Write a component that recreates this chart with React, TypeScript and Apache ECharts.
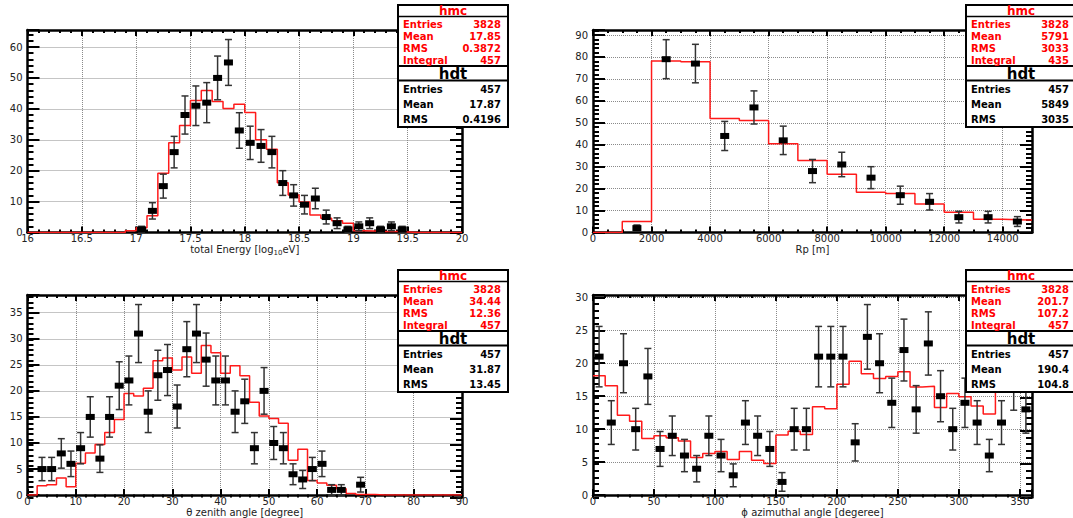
import React, { useEffect, useRef } from "react";
import * as echarts from "echarts";

// ---------------- data ----------------
// Panel 1: total energy, bins of 0.1 from 16 to 20
const energyBinStart = 16;
const energyBinWidth = 0.1;
const energyMc = [
  0, 0, 0, 0, 0, 0, 0, 0, 0, 0.6,
  1.5, 5.4, 19.2, 29, 34.6, 42.7, 45.9, 42.4, 40.1, 41.5,
  38.8, 30, 26.9, 16.1, 12.1, 9.9, 5.7, 4.6, 3.8, 3.0,
  0.6, 0.5, 0.3, 0.3, 0.2, 0, 0, 0, 0, 0,
];
const energyData = [
  0, 0, 0, 0, 0, 0, 0, 0, 0, 0,
  1, 7, 15, 26, 38, 41, 42, 50, 55, 33,
  29, 28, 26, 16, 12, 9, 11, 5, 3, 1,
  2, 3, 1, 2, 1, 0, 0, 0, 0, 0,
];
const energyStatsMc = ["3828", "17.85", "0.3872", "457"];
const energyStatsDt = ["457", "17.87", "0.4196"];

// Panel 2: Rp, bins of 1000 m from 0 to 15000
const rpBinStart = 0;
const rpBinWidth = 1000;
const rpMc = [0, 5, 78.2, 77.8, 52, 51, 40.5, 32.8, 26.5, 18.3, 17.8, 13, 9.2, 6, 5.7];
const rpData = [0, 2, 79, 77, 44, 57, 42, 28, 31, 25, 17, 14, 7, 7, 5];
const rpStatsMc = ["3828", "5791", "3033", "435"];
const rpStatsDt = ["457", "5849", "3035"];

// Panel 3: zenith angle, bins of 2 deg from 0 to 90
const thetaBinStart = 0;
const thetaBinWidth = 2;
const thetaMc = [
  0, 1.8, 2.0, 3.3, 1.6, 6.1, 8.1, 9.7, 12.0, 14.5,
  19.5, 19.0, 20.5, 25.8, 26.3, 24.0, 26.5, 23.4, 28.7, 27.3,
  23.4, 24.8, 22.9, 17.8, 15.2, 14.7, 13.8, 6.7, 8.8, 2.8,
  2.3, 1.9, 1.2, 0.3, 0.1, 0.1, 0, 0, 0, 0,
  0, 0, 0, 0, 0,
];
const thetaData = [
  0, 5, 5, 8, 6, 9, 15, 7, 15, 21,
  22, 31, 16, 23, 24, 17, 28, 31, 26, 22,
  22, 16, 18, 9, 20, 10, 9, 4, 3, 5,
  6, 1, 1, 0, 2, 0, 0, 0, 0, 0,
  0, 0, 0, 0, 0,
];
const thetaStatsMc = ["3828", "34.44", "12.36", "457"];
const thetaStatsDt = ["457", "31.87", "13.45"];

// Panel 4: azimuthal angle, bins of 10 deg from 0 to 360
const phiBinStart = 0;
const phiBinWidth = 10;
const phiMc = [
  18.1, 16.6, 12.1, 11.2, 8.6, 9.0, 8.7, 8.2, 5.7, 6.3,
  6.6, 5.4, 6.6, 5.3, 4.8, 9.1, 9.7, 9.2, 13.4, 13.1,
  16.8, 20.3, 18.4, 17.7, 18.0, 18.7, 16.4, 16.5, 13.3, 15.4,
  14.9, 13.5, 12.3, 19, 19, 19,
];
const phiData = [
  21, 11, 20, 10, 18, 7, 9, 6, 4, 9,
  6, 3, 11, 9, 7, 2, 10, 10, 21, 21,
  21, 8, 24, 20, 14, 22, 13, 23, 15, 10,
  14, 11, 6, 11, 17, 13,
];
const phiStatsMc = ["3828", "201.7", "107.2", "457"];
const phiStatsDt = ["457", "190.4", "104.8"];

const statLabelsMc = ["Entries", "Mean", "RMS", "Integral"];
const statLabelsDt = ["Entries", "Mean", "RMS"];

// axis ranges / tick steps
const energyAxis = { xMin: 16, xMax: 20, xMajor: 0.5, xMinor: 0.1, yMax: 65.5, yMajor: 10, yMinor: 2 };
const rpAxis = { xMin: 0, xMax: 15000, xMajor: 2000, xMinor: 500, yMax: 92.3, yMajor: 10, yMinor: 2 };
const thetaAxis = { xMin: 0, xMax: 90, xMajor: 10, xMinor: 2, yMax: 38.4, yMajor: 5, yMinor: 1 };
const phiAxis = { xMin: 0, xMax: 360, xMajor: 50, xMinor: 10, yMax: 30.35, yMajor: 5, yMinor: 1 };

// ---------------- layout ----------------
const FONT = '"DejaVu Sans", sans-serif';
const W = 1073;
const H = 518;

const panels = [
  {
    frame: { left: 27.5, top: 30, width: 434.5, height: 202.5 },
    axis: energyAxis, binStart: energyBinStart, binWidth: energyBinWidth,
    mc: energyMc, data: energyData,
    name: "{a|total Energy [log}{s|10}{a|eV]}",
    statsMc: energyStatsMc, statsDt: energyStatsDt, dx: 0, dy: 0,
  },
  {
    frame: { left: 593, top: 30, width: 439, height: 202.5 },
    axis: rpAxis, binStart: rpBinStart, binWidth: rpBinWidth,
    mc: rpMc, data: rpData,
    name: "{a|Rp [m]}",
    statsMc: rpStatsMc, statsDt: rpStatsDt, dx: 568, dy: 0,
  },
  {
    frame: { left: 27.5, top: 295, width: 434.5, height: 202.5 },
    axis: thetaAxis, binStart: thetaBinStart, binWidth: thetaBinWidth,
    mc: thetaMc, data: thetaData,
    name: "{a|θ zenith angle [degree]}",
    statsMc: thetaStatsMc, statsDt: thetaStatsDt, dx: 0, dy: 265,
  },
  {
    frame: { left: 593, top: 295, width: 439, height: 202.5 },
    axis: phiAxis, binStart: phiBinStart, binWidth: phiBinWidth,
    mc: phiMc, data: phiData,
    name: "{a|ϕ azimuthal angle [degeree]}",
    statsMc: phiStatsMc, statsDt: phiStatsDt, dx: 568, dy: 265,
  },
];

function isMultiple(v: number, step: number) {
  const r = v / step;
  return Math.abs(r - Math.round(r)) < 1e-6;
}
function fmt(step: number) {
  return (v: number) => (isMultiple(v, step) ? String(parseFloat(v.toFixed(6))) : "");
}

function buildOption() {
  const grids: any[] = [];
  const xAxes: any[] = [];
  const yAxes: any[] = [];
  const series: any[] = [];
  const graphics: any[] = [];

  const frameLine = { show: true, onZero: false, lineStyle: { color: "#000", width: 2.5 } };
  const noLine = { show: false, onZero: false };
  const tick = (len: number) => ({ show: true, inside: true, length: len, lineStyle: { color: "#000", width: 2 } });
  const labelStyle = { color: "#222", fontFamily: FONT, fontSize: 10 };
  const split = { show: true, lineStyle: { color: "#8a8a8a", type: "dotted", width: 1 } };

  panels.forEach((p) => {
    const g0 = grids.length;
    for (let k = 0; k < 4; k++) {
      grids.push({ ...p.frame, containLabel: false });
    }
    const a = p.axis;
    const xBase = { type: "value", min: a.xMin, max: a.xMax };
    const yBase = { type: "value", min: 0, max: a.yMax };
    const xMainIndex = xAxes.length;
    // main x (bottom)
    xAxes.push({
      ...xBase, gridIndex: g0, position: "bottom", interval: a.xMajor,
      axisLine: frameLine, axisTick: tick(6),
      axisLabel: { show: true, margin: 1, ...labelStyle, formatter: fmt(a.xMajor) },
      splitLine: split,
      name: p.name, nameLocation: "middle", nameGap: 5,
      nameTextStyle: {
        ...labelStyle,
        rich: {
          a: { ...labelStyle },
          s: { ...labelStyle, fontSize: 7, padding: [7, 0, 0, 0] },
        },
      },
    });
    xAxes.push({
      ...xBase, gridIndex: g0 + 1, position: "top", interval: a.xMajor,
      axisLine: frameLine, axisTick: tick(6), axisLabel: { show: false }, splitLine: { show: false },
    });
    xAxes.push({
      ...xBase, gridIndex: g0 + 2, position: "bottom", interval: a.xMinor,
      axisLine: noLine, axisTick: tick(3), axisLabel: { show: false }, splitLine: { show: false },
    });
    xAxes.push({
      ...xBase, gridIndex: g0 + 3, position: "top", interval: a.xMinor,
      axisLine: noLine, axisTick: tick(3), axisLabel: { show: false }, splitLine: { show: false },
    });

    const yMainIndex = yAxes.length;
    yAxes.push({
      ...yBase, gridIndex: g0, position: "left", interval: a.yMajor,
      axisLine: frameLine, axisTick: tick(12),
      axisLabel: { show: true, margin: 5, ...labelStyle, formatter: fmt(a.yMajor) },
      splitLine: split,
    });
    yAxes.push({
      ...yBase, gridIndex: g0 + 1, position: "right", interval: a.yMajor,
      axisLine: frameLine, axisTick: tick(12), axisLabel: { show: false }, splitLine: { show: false },
    });
    yAxes.push({
      ...yBase, gridIndex: g0 + 2, position: "left", interval: a.yMinor,
      axisLine: noLine, axisTick: tick(6), axisLabel: { show: false }, splitLine: { show: false },
    });
    yAxes.push({
      ...yBase, gridIndex: g0 + 3, position: "right", interval: a.yMinor,
      axisLine: noLine, axisTick: tick(6), axisLabel: { show: false }, splitLine: { show: false },
    });

    // red MC step histogram
    const stepData: number[][] = p.mc.map((v, k) => [p.binStart + k * p.binWidth, v]);
    stepData.push([p.binStart + p.mc.length * p.binWidth, p.mc[p.mc.length - 1]]);
    series.push({
      type: "line", step: "end", xAxisIndex: xMainIndex, yAxisIndex: yMainIndex,
      data: stepData, showSymbol: false, symbol: "none",
      lineStyle: { color: "#ff1a1a", width: 1.5 }, z: 2, silent: true,
    });

    // data points with Poisson errors
    const pts = p.data
      .map((n, k) => [p.binStart + (k + 0.5) * p.binWidth, n, Math.sqrt(n)])
      .filter((d) => d[1] > 0);
    series.push({
      type: "custom", xAxisIndex: xMainIndex, yAxisIndex: yMainIndex,
      dimensions: ["x", "y", "e"], encode: { x: 0, y: 1 },
      data: pts, z: 3, silent: true,
      renderItem: (_params: any, api: any) => {
        const x = api.value(0);
        const y = api.value(1);
        const e = api.value(2);
        const lo = api.coord([x, y - e]);
        const hi = api.coord([x, y + e]);
        const cap = 3.5;
        const st = { stroke: "#333", lineWidth: 1.5 };
        return {
          type: "group",
          children: [
            { type: "line", shape: { x1: lo[0], y1: lo[1], x2: hi[0], y2: hi[1] }, style: st },
            { type: "line", shape: { x1: lo[0] - cap, y1: lo[1], x2: lo[0] + cap, y2: lo[1] }, style: st },
            { type: "line", shape: { x1: hi[0] - cap, y1: hi[1], x2: hi[0] + cap, y2: hi[1] }, style: st },
          ],
        };
      },
    });
    series.push({
      type: "scatter", xAxisIndex: xMainIndex, yAxisIndex: yMainIndex,
      data: pts.map((d) => [d[0], d[1]]), symbol: "rect", symbolSize: [9, 6],
      itemStyle: { color: "#000", opacity: 1 }, z: 4, silent: true,
    });

    // stat boxes
    const bx = 398 + p.dx;
    const bw = 110;
    const dy = p.dy;
    graphics.push(
      { type: "rect", z: 100, shape: { x: bx, y: 5 + dy, width: bw, height: 61 }, style: { fill: "#fff", stroke: "#000", lineWidth: 2 } },
      { type: "line", z: 101, shape: { x1: bx, y1: 16.5 + dy, x2: bx + bw, y2: 16.5 + dy }, style: { stroke: "#000", lineWidth: 1.5 } },
      { type: "text", z: 101, x: bx + bw / 2, y: 11 + dy, style: { text: "hmc", fill: "#ff0000", font: `bold 12px ${FONT}`, align: "center", verticalAlign: "middle" } },
      { type: "rect", z: 100, shape: { x: bx, y: 66 + dy, width: bw, height: 61 }, style: { fill: "#fff", stroke: "#000", lineWidth: 2 } },
      { type: "line", z: 101, shape: { x1: bx, y1: 80.5 + dy, x2: bx + bw, y2: 80.5 + dy }, style: { stroke: "#000", lineWidth: 2 } },
      { type: "text", z: 101, x: bx + bw / 2, y: 73.5 + dy, style: { text: "hdt", fill: "#000", font: `bold 15px ${FONT}`, align: "center", verticalAlign: "middle" } },
    );
    const mcRows = [24, 36, 48, 60];
    statLabelsMc.forEach((lab, k) => {
      graphics.push(
        { type: "text", z: 101, x: bx + 5, y: mcRows[k] + dy, style: { text: lab, fill: "#ff0000", font: `bold 10px ${FONT}`, align: "left", verticalAlign: "middle" } },
        { type: "text", z: 101, x: bx + 103, y: mcRows[k] + dy, style: { text: p.statsMc[k], fill: "#ff0000", font: `bold 10px ${FONT}`, align: "right", verticalAlign: "middle" } },
      );
    });
    const dtRows = [89, 104, 119];
    statLabelsDt.forEach((lab, k) => {
      graphics.push(
        { type: "text", z: 101, x: bx + 5, y: dtRows[k] + dy, style: { text: lab, fill: "#000", font: `bold 10px ${FONT}`, align: "left", verticalAlign: "middle" } },
        { type: "text", z: 101, x: bx + 103, y: dtRows[k] + dy, style: { text: p.statsDt[k], fill: "#000", font: `bold 10px ${FONT}`, align: "right", verticalAlign: "middle" } },
      );
    });
  });

  return {
    animation: false,
    backgroundColor: "#fff",
    grid: grids,
    xAxis: xAxes,
    yAxis: yAxes,
    series,
    graphic: { elements: graphics },
  };
}

export default function App() {
  const ref = useRef<HTMLDivElement>(null);
  useEffect(() => {
    if (!ref.current) return;
    const chart = echarts.init(ref.current, undefined, { renderer: "svg", width: W, height: H });
    chart.setOption(buildOption() as any);
    return () => chart.dispose();
  }, []);
  return (
    <div
      ref={ref}
      style={{ position: "absolute", left: 0, top: 0, width: W, height: H, background: "#fff" }}
    />
  );
}
